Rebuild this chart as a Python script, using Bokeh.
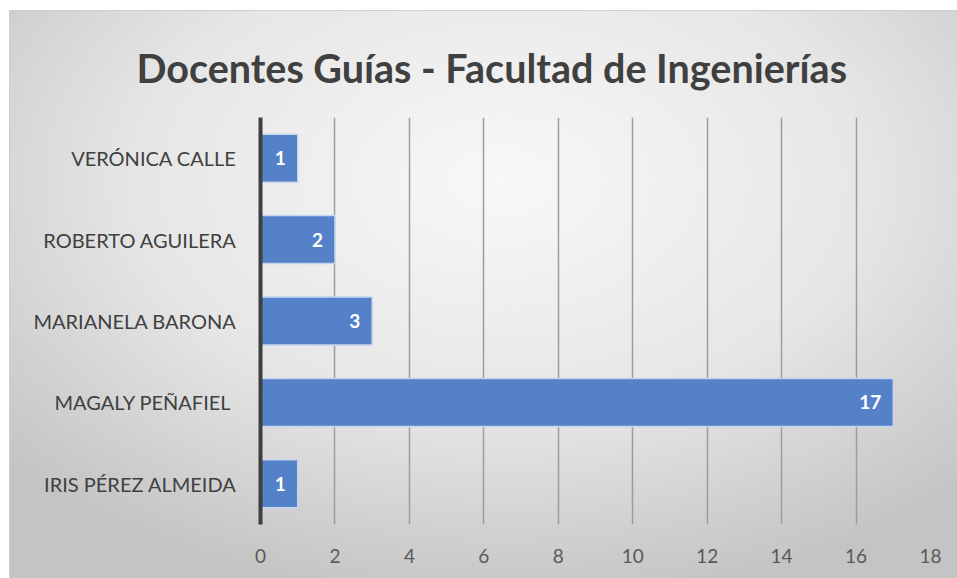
from bokeh.plotting import figure
from bokeh.models import ColumnDataSource, LabelSet, Range1d, FixedTicker, Title
from bokeh.core.properties import value
from bokeh.embed import file_html
from bokeh.resources import INLINE

docentes = ["IRIS PÉREZ ALMEIDA", "MAGALY PEÑAFIEL ", "MARIANELA BARONA", "ROBERTO AGUILERA", "VERÓNICA CALLE"]
valores = [1, 17, 3, 2, 1]
ticks = [0, 2, 4, 6, 8, 10, 12, 14, 16, 18]
titulo = "Docentes Guías - Facultad de Ingenierías"

FONT = "Lato"

src = ColumnDataSource(dict(y=docentes, v=valores, t=[str(v) for v in valores]))

p = figure(width=948, height=568, y_range=docentes, x_range=Range1d(0, 18),
           output_backend="svg", toolbar_location=None, title=None,
           min_border_left=250, min_border_right=28, min_border_top=106, min_border_bottom=55)
p.styles = {"background": "radial-gradient(ellipse 70% 75% at 52% 30%, #f8f8f8 0%, #e6e6e6 55%, #cfcfcf 85%, #c4c4c4 100%)",
            "border-top": "1px solid #cfcfcf", "border-left": "1px solid #cfcfcf",
            "margin-left": "9px", "margin-top": "10px"}
p.border_fill_alpha = 0
p.background_fill_alpha = 0
p.outline_line_color = None

p.hbar(y="y", right="v", left=0, height=0.59, source=src,
       fill_color="#5581c9", line_color="#c5d5ee", line_width=1.5)

labels = LabelSet(x="v", y="y", text="t", source=src, text_align="right", text_baseline="middle",
                  x_offset=-12, text_color="white", text_font_size="19px", text_font_style="bold",
                  text_font=value(FONT))
p.add_layout(labels)

p.xgrid.ticker = FixedTicker(ticks=ticks)
p.xgrid.grid_line_color = "#9c9c9c"
p.xgrid.grid_line_width = 1.5
p.ygrid.grid_line_color = None

p.xaxis.ticker = FixedTicker(ticks=ticks)
p.xaxis.axis_line_color = None
p.xaxis.major_tick_line_color = None
p.xaxis.minor_tick_line_color = None
p.xaxis.major_label_text_font = FONT
p.xaxis.major_label_text_font_size = "19px"
p.xaxis.major_label_text_color = "#595959"
p.xaxis.major_label_standoff = 18

p.yaxis.axis_line_color = "#3f3f3f"
p.yaxis.axis_line_width = 4
p.yaxis.major_tick_line_color = None
p.yaxis.minor_tick_line_color = None
p.yaxis.major_label_text_font = FONT
p.yaxis.major_label_text_font_size = "20px"
p.yaxis.major_label_text_color = "#404040"
p.yaxis.major_label_standoff = 18

p.add_layout(Title(text=titulo, align="left", offset=-124, text_font=FONT,
                   text_font_size="39.5px", text_font_style="bold", text_color="#404040",
                   standoff=54), "above")

open("out.html", "w").write(file_html(p, INLINE))
